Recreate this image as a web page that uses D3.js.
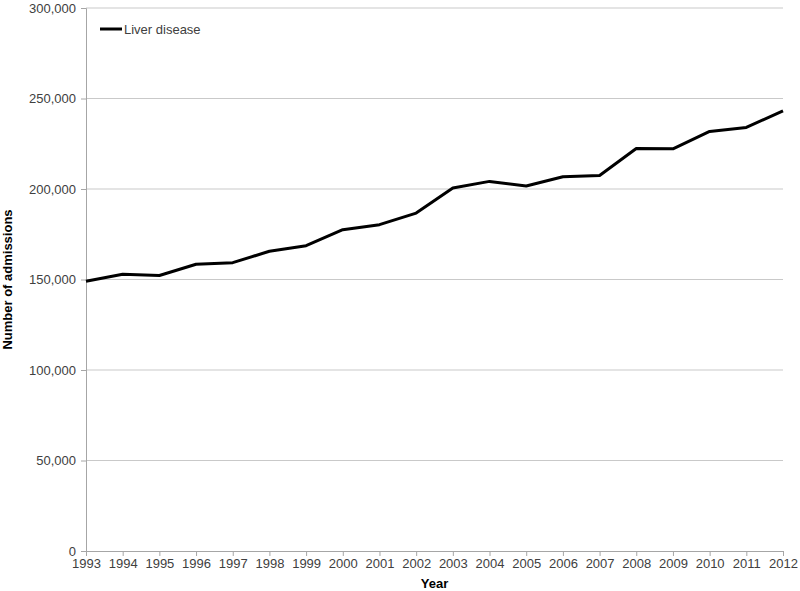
<!DOCTYPE html>
<html><head><meta charset="utf-8">
<script src="https://cdn.jsdelivr.net/npm/d3@7"></script>
<style>body{margin:0;background:#fff;} svg{display:block;font-family:"Liberation Sans",Arial,sans-serif;}</style>
</head><body>
<svg id="chart" width="800" height="591"></svg>
<script>
const years = [1993,1994,1995,1996,1997,1998,1999,2000,2001,2002,2003,2004,2005,2006,2007,2008,2009,2010,2011,2012];
const liverDisease = [149000,152900,152200,158400,159300,165600,168700,177500,180300,186700,200500,204200,201700,206800,207500,222400,222200,231800,234000,243200];
const yTicks = [0,50000,100000,150000,200000,250000,300000];
const seriesName = "Liver disease";

const svg = d3.select("#chart");
const m = {left:86, right:17, top:8, bottom:40};
const W = 800, H = 591;
const x = d3.scalePoint().domain(years).range([m.left, W - m.right]);
const y = d3.scaleLinear().domain([0,300000]).range([H - m.bottom, m.top]);
const fmt = d3.format(",");

// gridlines
svg.append("g").selectAll("line").data(yTicks.filter(d=>d>0)).join("line")
  .attr("x1", m.left).attr("x2", W - m.right)
  .attr("y1", d=>y(d)).attr("y2", d=>y(d))
  .attr("stroke", "#c9c9c9").attr("stroke-width", 1);

// y axis
const ya = svg.append("g").attr("transform", `translate(${m.left},0)`)
  .call(d3.axisLeft(y).tickValues(yTicks).tickFormat(fmt).tickSize(5).tickPadding(5));
ya.select(".domain").attr("stroke", "#a6a6a6");
ya.selectAll(".tick line").attr("stroke", "#a6a6a6");
ya.selectAll("text").attr("fill", "#404040").style("font-size", "13px");

// x axis
const xa = svg.append("g").attr("transform", `translate(0,${H - m.bottom})`)
  .call(d3.axisBottom(x).tickSize(5).tickPadding(3).tickSizeOuter(0));
xa.select(".domain").attr("stroke", "#a6a6a6");
xa.selectAll(".tick line").attr("stroke", "#a6a6a6");
xa.selectAll("text").attr("fill", "#404040").style("font-size", "13px");

// line
const line = d3.line().x((d,i)=>x(years[i])).y(d=>y(d));
svg.append("path").datum(liverDisease).attr("d", line)
  .attr("fill", "none").attr("stroke", "#000").attr("stroke-width", 3)
  .attr("stroke-linejoin", "round");

// legend
svg.append("line").attr("x1", 100).attr("x2", 122).attr("y1", 29).attr("y2", 29)
  .attr("stroke", "#000").attr("stroke-width", 3);
svg.append("text").attr("x", 124).attr("y", 33.5).text(seriesName)
  .attr("fill", "#404040").style("font-size", "13px");

// axis titles
svg.append("text").attr("x", (m.left + W - m.right)/2).attr("y", 588)
  .attr("text-anchor", "middle").style("font-size", "13px").style("font-weight", "bold")
  .attr("fill", "#000").text("Year");
svg.append("text").attr("transform", `translate(12,${(m.top + H - m.bottom)/2}) rotate(-90)`)
  .attr("text-anchor", "middle").style("font-size", "13px").style("font-weight", "bold")
  .attr("fill", "#000").text("Number of admissions");
</script>
</body></html>
